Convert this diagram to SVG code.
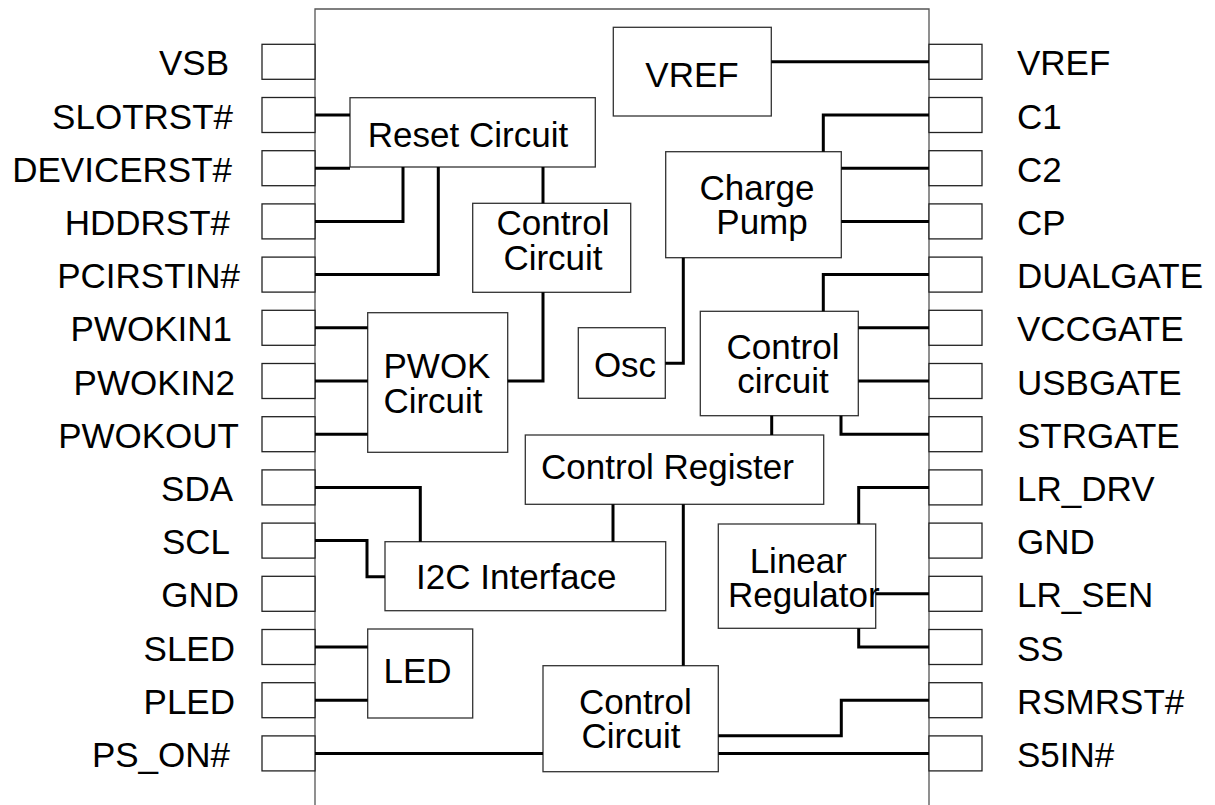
<svg xmlns="http://www.w3.org/2000/svg" width="1215" height="805" viewBox="0 0 1215 805">
<style>
.bg{fill:#fff}
.box{fill:#fff;stroke:#333;stroke-width:1.3}
.pin{fill:#fff;stroke:#222;stroke-width:1.3}
.chip{fill:none;stroke:#555;stroke-width:1.3}
.w{fill:none;stroke:#000;stroke-width:3}
text{font-family:"Liberation Sans",Arial,sans-serif;font-size:35px;fill:#000}
.e{text-anchor:end}
.m{text-anchor:middle}
</style>
<rect class="bg" x="0" y="0" width="1215" height="805"/>
<g id="chip">
<path class="chip" d="M315,805 V9 H929 V805"/>
</g>
<g id="left-pins">
<rect class="pin" x="262" y="44.3" width="53" height="35"/>
<rect class="pin" x="262" y="97.5" width="53" height="35"/>
<rect class="pin" x="262" y="150.7" width="53" height="35"/>
<rect class="pin" x="262" y="203.9" width="53" height="35"/>
<rect class="pin" x="262" y="257.1" width="53" height="35"/>
<rect class="pin" x="262" y="310.3" width="53" height="35"/>
<rect class="pin" x="262" y="363.5" width="53" height="35"/>
<rect class="pin" x="262" y="416.7" width="53" height="35"/>
<rect class="pin" x="262" y="469.9" width="53" height="35"/>
<rect class="pin" x="262" y="523.1" width="53" height="35"/>
<rect class="pin" x="262" y="576.3" width="53" height="35"/>
<rect class="pin" x="262" y="629.5" width="53" height="35"/>
<rect class="pin" x="262" y="682.7" width="53" height="35"/>
<rect class="pin" x="262" y="735.9" width="53" height="35"/>
<text class="e" x="229" y="75.3">VSB</text>
<text class="e" x="233" y="128.5">SLOTRST#</text>
<text class="e" x="232" y="181.7">DEVICERST#</text>
<text class="e" x="230" y="234.9">HDDRST#</text>
<text class="e" x="240" y="288.1">PCIRSTIN#</text>
<text class="e" x="232" y="341.3">PWOKIN1</text>
<text class="e" x="235" y="394.5">PWOKIN2</text>
<text class="e" x="239" y="447.7">PWOKOUT</text>
<text class="e" x="233" y="500.9">SDA</text>
<text class="e" x="230" y="554.1">SCL</text>
<text class="e" x="239" y="607.3">GND</text>
<text class="e" x="235" y="660.5">SLED</text>
<text class="e" x="235" y="713.7">PLED</text>
<text class="e" x="230" y="766.9">PS_ON#</text>
</g>
<g id="right-pins">
<rect class="pin" x="929" y="44.3" width="53" height="35"/>
<rect class="pin" x="929" y="97.5" width="53" height="35"/>
<rect class="pin" x="929" y="150.7" width="53" height="35"/>
<rect class="pin" x="929" y="203.9" width="53" height="35"/>
<rect class="pin" x="929" y="257.1" width="53" height="35"/>
<rect class="pin" x="929" y="310.3" width="53" height="35"/>
<rect class="pin" x="929" y="363.5" width="53" height="35"/>
<rect class="pin" x="929" y="416.7" width="53" height="35"/>
<rect class="pin" x="929" y="469.9" width="53" height="35"/>
<rect class="pin" x="929" y="523.1" width="53" height="35"/>
<rect class="pin" x="929" y="576.3" width="53" height="35"/>
<rect class="pin" x="929" y="629.5" width="53" height="35"/>
<rect class="pin" x="929" y="682.7" width="53" height="35"/>
<rect class="pin" x="929" y="735.9" width="53" height="35"/>
<text x="1017" y="75.3">VREF</text>
<text x="1017" y="128.5">C1</text>
<text x="1017" y="181.7">C2</text>
<text x="1017" y="234.9">CP</text>
<text x="1017" y="288.1">DUALGATE</text>
<text x="1017" y="341.3">VCCGATE</text>
<text x="1017" y="394.5">USBGATE</text>
<text x="1017" y="447.7">STRGATE</text>
<text x="1017" y="500.9">LR_DRV</text>
<text x="1017" y="554.1">GND</text>
<text x="1017" y="607.3">LR_SEN</text>
<text x="1017" y="660.5">SS</text>
<text x="1017" y="713.7">RSMRST#</text>
<text x="1017" y="766.9">S5IN#</text>
</g>
<g id="vref">
<rect class="box" x="613.3" y="27.3" width="158" height="88.7"/>
<text class="m" x="692" y="87.3">VREF</text>
</g>
<g id="reset-circuit">
<rect class="box" x="350" y="97.7" width="245.3" height="69.3"/>
<text class="m" x="468" y="146.7">Reset Circuit</text>
</g>
<g id="control-circuit-upper">
<rect class="box" x="472.7" y="203.3" width="158" height="89"/>
<text class="m" x="553" y="235">Control</text>
<text class="m" x="553" y="270">Circuit</text>
</g>
<g id="charge-pump">
<rect class="box" x="665.7" y="151.7" width="175.6" height="106"/>
<text class="m" x="757" y="200">Charge</text>
<text class="m" x="762" y="233.5">Pump</text>
</g>
<g id="pwok-circuit">
<rect class="box" x="367.7" y="312.7" width="140" height="139.6"/>
<text class="m" x="437" y="377.7">PWOK</text>
<text class="m" x="433" y="412.7">Circuit</text>
</g>
<g id="osc">
<rect class="box" x="578.3" y="327.7" width="87" height="70.6"/>
<text class="m" x="625" y="377.3">Osc</text>
</g>
<g id="control-circuit-right">
<rect class="box" x="700.3" y="311.3" width="158" height="104.4"/>
<text class="m" x="783" y="359">Control</text>
<text class="m" x="783" y="393.3">circuit</text>
</g>
<g id="control-register">
<rect class="box" x="525.3" y="435" width="298.4" height="69.3"/>
<text class="m" x="667.5" y="479.3">Control Register</text>
</g>
<g id="i2c-interface">
<rect class="box" x="385" y="541.7" width="280.7" height="69"/>
<text class="m" x="516.3" y="589">I2C Interface</text>
</g>
<g id="led">
<rect class="box" x="367.7" y="629" width="105" height="89"/>
<text class="m" x="417.5" y="682.7">LED</text>
</g>
<g id="control-circuit-bottom">
<rect class="box" x="543" y="665.7" width="175.3" height="106"/>
<text class="m" x="635.3" y="714">Control</text>
<text class="m" x="631" y="748.3">Circuit</text>
</g>
<g id="linear-regulator">
<rect class="box" x="718.3" y="524" width="157.4" height="104.3"/>
<text class="m" x="798.3" y="572.7">Linear</text>
<text class="m" x="803.8" y="607.3">Regulator</text>
</g>
<g id="connectors">
<path class="w" d="M771.3,61.8 H929"/>
<path class="w" d="M315,115 H350"/>
<path class="w" d="M315,168.2 H350"/>
<path class="w" d="M315,221.4 H403 V167"/>
<path class="w" d="M315,274.6 H438.3 V167"/>
<path class="w" d="M543,167 V203.3"/>
<path class="w" d="M543,292.3 V381 H507.7"/>
<path class="w" d="M315,327.8 H367.7"/>
<path class="w" d="M315,381 H367.7"/>
<path class="w" d="M315,434.2 H367.7"/>
<path class="w" d="M315,487.4 H420.3 V541.7"/>
<path class="w" d="M315,540.6 H367 V576.7 H385"/>
<path class="w" d="M613,504.3 V541.7"/>
<path class="w" d="M683.3,504.3 V665.7"/>
<path class="w" d="M315,647 H367.7"/>
<path class="w" d="M315,700.2 H367.7"/>
<path class="w" d="M315,753.4 H543"/>
<path class="w" d="M929,115 H823.3 V151.7"/>
<path class="w" d="M841.3,168.2 H929"/>
<path class="w" d="M841.3,221.4 H929"/>
<path class="w" d="M665.3,363.3 H683.3 V257.7"/>
<path class="w" d="M929,274.6 H823.3 V311.3"/>
<path class="w" d="M858.3,327.8 H929"/>
<path class="w" d="M858.3,381 H929"/>
<path class="w" d="M841,415.7 V434.2 H929"/>
<path class="w" d="M771.7,415.7 V435"/>
<path class="w" d="M929,487.4 H858.7 V524"/>
<path class="w" d="M875.7,593.8 H929"/>
<path class="w" d="M858.7,628.3 V647 H929"/>
<path class="w" d="M718.3,735.7 H841.3 V700.2 H929"/>
<path class="w" d="M718.3,753.4 H929"/>
</g>
</svg>
